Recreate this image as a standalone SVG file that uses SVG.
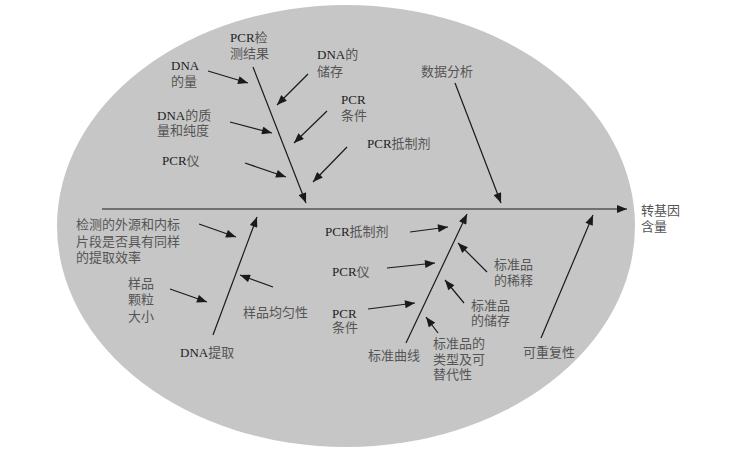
<svg xmlns="http://www.w3.org/2000/svg" width="730" height="455" viewBox="0 0 730 455">
<defs>
<marker id="ah" viewBox="0 0 10 8" refX="10" refY="4" markerWidth="11" markerHeight="8" markerUnits="userSpaceOnUse" orient="auto">
<path d="M0,0 L10,4 L0,8 z" fill="#1a1a1a"/>
</marker>
<style>
.t{font-family:"Liberation Serif","Noto Sans CJK SC",serif;font-size:13px;fill:#222}
.c{fill:#555}
.l{stroke:#1a1a1a;stroke-width:1.2;fill:none;marker-end:url(#ah)}
</style>
</defs>
<rect width="730" height="455" fill="#fff"/>
<ellipse cx="346" cy="226" rx="289" ry="221" fill="#c6c6c6"/>
<g id="connectors">
<line class="l" x1="102" y1="209" x2="627" y2="209"/>
<line class="l" x1="253" y1="67" x2="306" y2="203"/>
<line class="l" x1="208" y1="71" x2="248" y2="83"/>
<line class="l" x1="308" y1="74" x2="277" y2="105"/>
<line class="l" x1="230" y1="122" x2="272" y2="133"/>
<line class="l" x1="327" y1="111" x2="294" y2="143"/>
<line class="l" x1="245" y1="163" x2="286" y2="177"/>
<line class="l" x1="347" y1="147" x2="313" y2="182"/>
<line class="l" x1="455" y1="83" x2="501" y2="203"/>
<line class="l" x1="213" y1="335" x2="257" y2="217"/>
<line class="l" x1="199" y1="224" x2="236" y2="237"/>
<line class="l" x1="170" y1="289" x2="207" y2="302"/>
<line class="l" x1="273" y1="287" x2="240" y2="275"/>
<line class="l" x1="406" y1="343" x2="467" y2="214"/>
<line class="l" x1="410" y1="232" x2="448" y2="227"/>
<line class="l" x1="387" y1="268" x2="435" y2="263"/>
<line class="l" x1="368" y1="309" x2="415" y2="303"/>
<line class="l" x1="487" y1="272" x2="458" y2="243"/>
<line class="l" x1="464" y1="303" x2="445" y2="280"/>
<line class="l" x1="438" y1="333" x2="426" y2="317"/>
<line class="l" x1="541" y1="338" x2="593" y2="215"/>
</g>
<g id="effect"><text class="t c" x="641" y="215">转基因</text><text class="t c" x="641" y="231">含量</text></g>
<g id="pcr-result"><text class="t" x="230" y="42">PCR<tspan class="c">检</tspan></text><text class="t c" x="230" y="58">测结果</text></g>
<g id="dna-amount"><text class="t" x="171" y="70">DNA</text><text class="t c" x="171" y="86">的量</text></g>
<g id="dna-storage"><text class="t" x="317" y="59">DNA<tspan class="c">的</tspan></text><text class="t c" x="317" y="76">储存</text></g>
<g id="dna-quality"><text class="t" x="157" y="120">DNA<tspan class="c">的质</tspan></text><text class="t c" x="157" y="135">量和纯度</text></g>
<g id="pcr-cond-top"><text class="t" x="341" y="104">PCR</text><text class="t c" x="341" y="120">条件</text></g>
<g id="pcr-inst-top"><text class="t" x="162" y="165">PCR<tspan class="c">仪</tspan></text></g>
<g id="pcr-inhib-top"><text class="t" x="367" y="148">PCR<tspan class="c">抵制剂</tspan></text></g>
<g id="data-analysis"><text class="t c" x="421" y="76">数据分析</text></g>
<g id="dna-extract"><text class="t" x="180" y="357">DNA<tspan class="c">提取</tspan></text></g>
<g id="efficiency"><text class="t c" x="76" y="229">检测的外源和内标</text><text class="t c" x="76" y="246">片段是否具有同样</text><text class="t c" x="76" y="262">的提取效率</text></g>
<g id="particle"><text class="t c" x="128" y="288">样品</text><text class="t c" x="128" y="304">颗粒</text><text class="t c" x="128" y="321">大小</text></g>
<g id="uniformity"><text class="t c" x="243" y="317">样品均匀性</text></g>
<g id="std-curve"><text class="t c" x="368" y="360">标准曲线</text></g>
<g id="pcr-inhib-bot"><text class="t" x="325" y="236">PCR<tspan class="c">抵制剂</tspan></text></g>
<g id="pcr-inst-bot"><text class="t" x="332" y="276">PCR<tspan class="c">仪</tspan></text></g>
<g id="pcr-cond-bot"><text class="t" x="332" y="318">PCR</text><text class="t c" x="332" y="332">条件</text></g>
<g id="std-dilution"><text class="t c" x="494" y="269">标准品</text><text class="t c" x="494" y="285">的稀释</text></g>
<g id="std-storage"><text class="t c" x="471" y="310">标准品</text><text class="t c" x="471" y="325">的储存</text></g>
<g id="std-type"><text class="t c" x="433" y="348">标准品的</text><text class="t c" x="433" y="364">类型及可</text><text class="t c" x="433" y="379">替代性</text></g>
<g id="repeatability"><text class="t c" x="523" y="357">可重复性</text></g>
</svg>
